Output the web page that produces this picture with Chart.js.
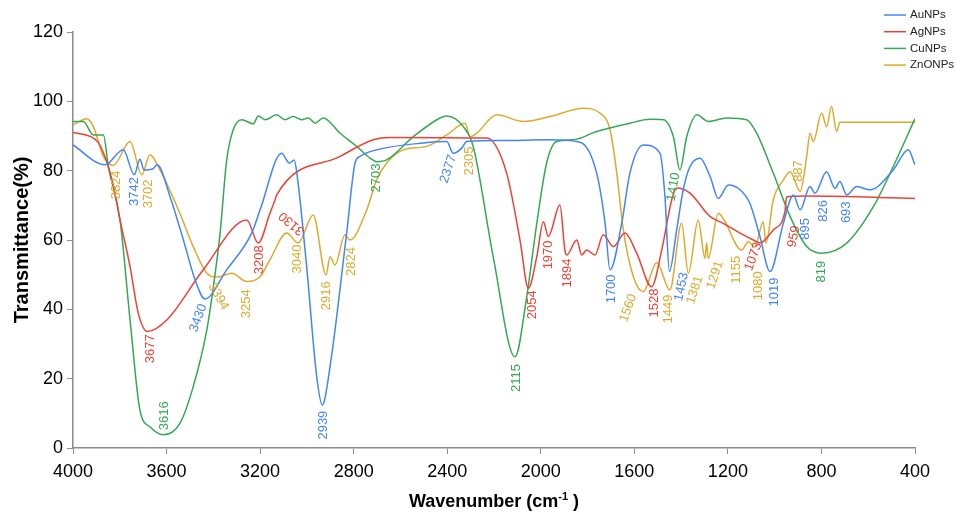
<!DOCTYPE html>
<html>
<head>
<meta charset="utf-8">
<title>FTIR spectra</title>
<script src="https://cdn.jsdelivr.net/npm/chart.js@4.4.1/dist/chart.umd.min.js"></script>
<style>
  html, body { margin: 0; padding: 0; background: #fff; }
  #wrap { width: 956px; height: 517px; }
</style>
</head>
<body>
<div id="wrap"><canvas id="ftir"></canvas></div>
<script>
// [wavenumber cm-1, transmittance %]
const auNPs = [
    [4000, 87.4], [3863, 81.7], [3785, 86.0], [3738, 78.8], [3714, 83.3], [3696, 80.2],
    [3659, 80.5], [3640, 81.7], [3585, 72.5], [3528, 60.0], [3478, 48.5], [3436, 43.0],
    [3343, 51.4], [3236, 62.0], [3200, 68.7], [3108, 85.0], [3075, 82.2], [3054, 83.1],
    [3041, 78.3], [3001, 52.3], [2958, 20.6], [2934, 12.4], [2901, 23.5],
    [2830, 62.0], [2794, 82.2], [2773, 84.1], [2702, 86.0], [2502, 88.0], [2402, 88.4],
    [2374, 85.0], [2338, 86.5], [2317, 88.4], [2174, 88.7], [1961, 88.9], [1832, 88.2],
    [1761, 79.3], [1725, 64.8], [1704, 51.4], [1654, 64.8], [1619, 79.3], [1562, 87.4],
    [1490, 85.0], [1469, 72.5], [1450, 50.9], [1419, 62.9], [1391, 74.5], [1362, 81.2],
    [1319, 83.6], [1276, 78.3], [1241, 72.0], [1198, 75.9], [1148, 74.5], [1106, 70.6],
    [1063, 61.0], [1020, 50.9], [963, 64.8], [920, 73.0], [891, 68.7], [849, 75.4],
    [828, 73.5], [778, 79.7], [742, 74.9], [721, 76.9], [692, 73.0], [649, 75.4],
    [592, 74.5], [493, 80.2], [429, 86.0], [400, 81.7]
];
const agNPs = [
    [4000, 91.0], [3913, 89.4], [3885, 87.4], [3833, 77.3], [3799, 65.8], [3756, 52.3],
    [3721, 38.9], [3682, 33.6], [3599, 36.9], [3443, 51.4], [3257, 65.8], [3208, 59.1],
    [3158, 67.7], [3136, 71.6], [3129, 73.0], [2858, 84.1], [2716, 88.9], [2645, 89.6],
    [2231, 89.4], [2146, 79.3], [2089, 60.0], [2053, 46.1], [2017, 55.2], [1989, 65.3],
    [1968, 61.0], [1918, 70.1], [1897, 57.1], [1889, 55.7], [1846, 60.0], [1825, 55.7],
    [1804, 57.1], [1768, 55.7], [1733, 61.5], [1690, 58.1], [1640, 62.0], [1590, 56.2],
    [1526, 46.5], [1483, 57.1], [1440, 71.6], [1419, 75.0], [1362, 73.5], [1277, 66.8],
    [1220, 64.8], [1148, 62.0], [1091, 60.0], [1063, 59.1], [1006, 62.9], [956, 68.2],
    [949, 72.5], [863, 72.7], [400, 72.0]
];
const cuNPs = [
    [4000, 94.2], [3956, 94.2], [3913, 90.3], [3870, 90.3], [3849, 81.2], [3799, 65.8],
    [3756, 36.9], [3714, 11.0], [3671, 6.1], [3614, 3.8], [3543, 7.1], [3486, 17.7],
    [3428, 34.0], [3400, 46.5], [3371, 62.0], [3343, 83.0], [3315, 91.8], [3279, 94.7],
    [3229, 93.5], [3208, 95.8], [3179, 94.7], [3129, 96.1], [3094, 94.7], [3058, 95.6],
    [3022, 94.7], [2994, 95.2], [2965, 93.7], [2930, 95.2], [2858, 90.8], [2787, 87.0],
    [2730, 83.6], [2702, 82.6], [2659, 83.1], [2545, 89.8], [2431, 95.2], [2402, 95.8],
    [2331, 92.7], [2289, 87.0], [2203, 55.0], [2110, 26.3], [2060, 43.7], [2017, 64.8],
    [1975, 82.2], [1932, 88.4], [1861, 88.9], [1761, 91.3], [1619, 93.7], [1533, 94.8],
    [1476, 94.7], [1433, 89.8], [1405, 80.2], [1376, 89.8], [1333, 96.1], [1284, 94.2],
    [1205, 95.2], [1120, 94.7], [1077, 90.8], [1006, 79.3], [934, 66.8], [863, 58.1],
    [799, 56.2], [692, 59.1], [578, 69.6], [493, 81.2], [400, 95.0]
];
const znONPs = [
    [4000, 93.2], [3941, 95.0], [3913, 92.7], [3870, 84.1], [3828, 81.5], [3756, 88.4],
    [3706, 78.8], [3671, 84.6], [3628, 80.2], [3543, 67.7], [3486, 58.1], [3428, 50.4],
    [3386, 49.3], [3321, 50.4], [3257, 48.0], [3200, 49.4], [3158, 54.3], [3086, 62.0],
    [3037, 59.1], [2973, 67.2], [2918, 49.9], [2901, 55.2], [2880, 52.8], [2837, 61.5],
    [2816, 60.0], [2744, 68.7], [2702, 77.3], [2659, 82.2], [2588, 86.0], [2488, 87.0],
    [2402, 90.3], [2324, 93.7], [2302, 89.8], [2274, 90.8], [2188, 96.1], [2075, 94.2],
    [1961, 95.6], [1818, 98.0], [1747, 96.6], [1704, 91.8], [1675, 79.3], [1647, 62.9],
    [1604, 49.4], [1562, 45.1], [1504, 53.5], [1448, 45.6], [1398, 64.8], [1369, 50.4],
    [1327, 65.8], [1298, 54.7], [1291, 59.1], [1284, 54.7], [1241, 67.7], [1220, 66.2],
    [1141, 57.1], [1113, 59.5], [1084, 58.0], [1049, 65.3], [1037, 59.1], [1006, 71.6],
    [963, 77.3], [934, 79.7], [891, 74.0], [863, 84.1], [849, 90.8], [835, 88.4],
    [799, 96.6], [778, 92.7], [757, 98.5], [735, 91.3], [721, 94.0], [400, 94.0]
];

const seriesNames = ['AuNPs', 'AgNPs', 'CuNPs', 'ZnONPs'];
const seriesColors = ['#4285F4', '#EA4335', '#34A853', '#DDAA2E'];

// peak labels: text, series index, wavenumber, transmittance, angle (deg)
const peakLabels = [
    ['3824', 3, 3813, 75.9, -90], ['3742', 0, 3738, 74.0, -90], ['3702', 3, 3678, 73.3, -90],
    ['3677', 1, 3668, 28.6, -90], ['3616', 2, 3611, 9.3, -90], ['3430', 0, 3464, 37.5, -70],
    ['3394', 3, 3379, 43.7, 60], ['3254', 3, 3257, 41.6, -90], ['3208', 1, 3203, 54.3, -90],
    ['3130', 1, 3065, 64.8, -140], ['3040', 3, 3041, 54.5, -90], ['2916', 3, 2915, 43.9, -90],
    ['2939', 0, 2930, 6.6, -90], ['2824', 3, 2811, 53.8, -90], ['2703', 2, 2702, 77.9, -90],
    ['2377', 0, 2395, 80.5, -72], ['2305', 3, 2303, 82.8, -90], ['2115', 2, 2103, 20.2, -90],
    ['2054', 1, 2035, 41.3, -90], ['1970', 1, 1968, 55.7, -90], ['1894', 1, 1887, 50.5, -90],
    ['1700', 0, 1697, 45.9, -90], ['1560', 3, 1626, 40.4, -70], ['1528', 1, 1512, 41.8, -90],
    ['1449', 3, 1455, 40.1, -90], ['1453', 0, 1398, 46.5, -78], ['1410', 2, 1433, 75.3, -80],
    ['1381', 3, 1341, 45.6, -72], ['1291', 3, 1255, 49.9, -72], ['1155', 3, 1162, 51.4, -90],
    ['1073', 1, 1091, 55.2, -70], ['1080', 3, 1070, 46.8, -90], ['1019', 0, 999, 45.0, -90],
    ['959', 1, 917, 61.0, -78], ['895', 0, 870, 63.2, -90], ['887', 3, 899, 79.9, -90],
    ['826', 0, 792, 68.4, -90], ['693', 0, 692, 68.0, -90], ['819', 2, 799, 50.9, -90]
];

const xTicks = [4000, 3600, 3200, 2800, 2400, 2000, 1600, 1200, 800, 400];

const FONT = '"Liberation Sans", Arial, sans-serif';

const overlay = {
    id: 'overlay',
    afterDraw(chart) {
        const ctx = chart.ctx;
        const sx = chart.scales.x;
        const sy = chart.scales.y;

        // peak labels
        ctx.save();
        ctx.font = '13px ' + FONT;
        ctx.textAlign = 'center';
        ctx.textBaseline = 'middle';
        peakLabels.forEach(function (p) {
            ctx.save();
            ctx.translate(sx.getPixelForValue(p[2]), sy.getPixelForValue(p[3]));
            ctx.rotate(p[4] * Math.PI / 180);
            ctx.fillStyle = seriesColors[p[1]];
            ctx.fillText(p[0], 0, 0);
            ctx.restore();
        });
        ctx.restore();

        // legend
        ctx.save();
        ctx.font = '11.5px ' + FONT;
        ctx.textBaseline = 'middle';
        seriesNames.forEach(function (name, i) {
            const y = 15 + i * 16.7;
            ctx.strokeStyle = seriesColors[i];
            ctx.lineWidth = 1.5;
            ctx.beginPath();
            ctx.moveTo(884, y);
            ctx.lineTo(906, y);
            ctx.stroke();
            ctx.fillStyle = '#222';
            ctx.fillText(name, 910, y);
        });
        ctx.restore();

        // x axis title with superscript
        ctx.save();
        ctx.fillStyle = '#000';
        ctx.textBaseline = 'alphabetic';
        const big = 'bold 18px ' + FONT;
        const small = 'bold 11px ' + FONT;
        const t1 = 'Wavenumber (cm', t2 = '-1', t3 = ' )';
        ctx.font = big;
        const w1 = ctx.measureText(t1).width, w3 = ctx.measureText(t3).width;
        ctx.font = small;
        const w2 = ctx.measureText(t2).width;
        let x = (chart.chartArea.left + chart.chartArea.right) / 2 - (w1 + w2 + w3) / 2;
        const base = 507;
        ctx.font = big;
        ctx.fillText(t1, x, base);
        ctx.font = small;
        ctx.fillText(t2, x + w1, base - 7);
        ctx.font = big;
        ctx.fillText(t3, x + w1 + w2, base);
        ctx.restore();
    }
};

const chart = new Chart(document.getElementById('ftir'), {
    type: 'line',
    data: {
        datasets: [auNPs, agNPs, cuNPs, znONPs].map(function (arr, i) {
            return {
                label: seriesNames[i],
                data: arr.map(p => ({x: p[0], y: p[1]})),
                borderColor: seriesColors[i],
                borderWidth: 1.5,
                pointRadius: 0,
                fill: false,
                cubicInterpolationMode: 'monotone'
            };
        })
    },
    options: {
        animation: false,
        responsive: true,
        maintainAspectRatio: false,
        devicePixelRatio: 1,
        layout: {padding: {left: 0, right: 41, top: 32, bottom: 0}},
        plugins: {legend: {display: false}, tooltip: {enabled: false}},
        scales: {
            x: {
                type: 'linear',
                reverse: true,
                min: 400,
                max: 4000,
                afterBuildTicks: function (s) { s.ticks = xTicks.map(v => ({value: v})); },
                afterFit: function (s) { s.height = 69; },
                ticks: {
                    color: '#000',
                    padding: 7,
                    maxRotation: 0,
                    autoSkip: false,
                    font: {family: FONT, size: 18},
                    callback: v => String(v)
                },
                grid: {drawOnChartArea: false, tickLength: 6, color: '#8c8c8c'},
                border: {color: '#8c8c8c', width: 1.5}
            },
            y: {
                min: 0,
                max: 120,
                afterFit: function (s) { s.width = 73; },
                ticks: {
                    stepSize: 20,
                    color: '#000',
                    padding: 4,
                    font: {family: FONT, size: 18}
                },
                grid: {drawOnChartArea: false, tickLength: 6, color: '#8c8c8c'},
                border: {color: '#8c8c8c', width: 1.5},
                title: {
                    display: true,
                    text: 'Transmittance(%)',
                    color: '#000',
                    font: {family: FONT, size: 20, weight: 'bold'},
                    padding: {top: 10, bottom: 0}
                }
            }
        }
    },
    plugins: [overlay]
});
</script>
</body>
</html>
